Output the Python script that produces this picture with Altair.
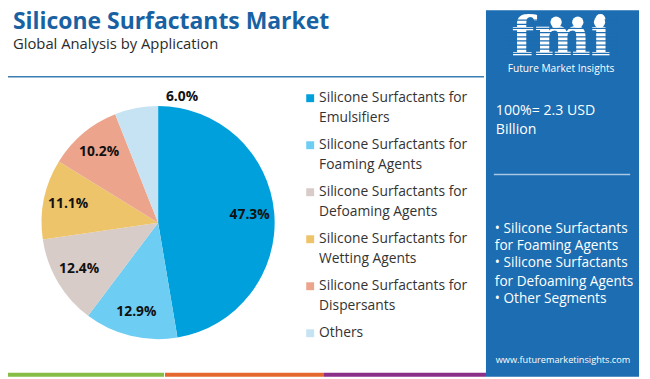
import altair as alt
import pandas as pd

# ---- data ----
categories = [
    "Silicone Surfactants for Emulsifiers",
    "Silicone Surfactants for Foaming Agents",
    "Silicone Surfactants for Defoaming Agents",
    "Silicone Surfactants for Wetting Agents",
    "Silicone Surfactants for Dispersants",
    "Others",
]
line1 = [
    "Silicone Surfactants for",
    "Silicone Surfactants for",
    "Silicone Surfactants for",
    "Silicone Surfactants for",
    "Silicone Surfactants for",
    "Others",
]
line2 = ["Emulsifiers", "Foaming Agents", "Defoaming Agents", "Wetting Agents", "Dispersants", ""]
shares = [47.3, 12.9, 12.4, 11.1, 10.2, 6.0]
colors = ["#00A0DC", "#6DCDF3", "#D8CCC8", "#EEC46B", "#ECA58C", "#C5E3F3"]

df = pd.DataFrame({
    "cat": categories,
    "l1": line1,
    "l2": line2,
    "value": shares,
    "idx": list(range(len(categories))),
})
df["label"] = df["value"].map(lambda v: f"{v:.1f}%")

W, H = 642, 371
FONT = "Open Sans"

def P(v):
    # reference pixel -> chart pixel (page has an 8px margin)
    return v - 8

color_scale = alt.Scale(domain=categories, range=colors)
one = alt.Data(values=[{}])

def rect(x1, x2, y1, y2, color):
    return alt.Chart(one).mark_rect(color=color).encode(
        x=alt.value(max(P(x1), 0)), x2=alt.value(min(P(x2), W)),
        y=alt.value(max(P(y1), 0)), y2=alt.value(min(P(y2), H)))

def txt(s, x, y, size, color, weight="normal", align="left", font=FONT, baseline="middle"):
    return alt.Chart(one).mark_text(
        text=s, fontSize=size, color=color, fontWeight=weight, align=align,
        baseline=baseline, font=font).encode(x=alt.value(P(x)), y=alt.value(P(y)))

# ---- pie ----
CX, CY, R = P(160), P(223), 118
base = alt.Chart(df).encode(
    theta=alt.Theta("value:Q", stack=True),
    order=alt.Order("idx:Q"),
)
pie = base.mark_arc(outerRadius=R, stroke=None).encode(
    color=alt.Color("cat:N", scale=color_scale, legend=None),
    x=alt.value(CX), y=alt.value(CY),
)
pie_labels = base.transform_calculate(
    lr="datum.value < 7 ? 129 : 93"
).mark_text(fontSize=14, fontWeight="bold", font=FONT, color="#111111").encode(
    text="label:N",
    radius=alt.Radius("lr:Q", scale=None),
    x=alt.value(CX), y=alt.value(CY),
)

# ---- legend ----
yleg = alt.Y("cat:N", scale=alt.Scale(type="point", domain=categories,
                                       range=[P(97), P(335)], padding=0), axis=None)
leg_sq = alt.Chart(df).mark_square(size=64, opacity=1, filled=True).encode(
    x=alt.value(P(314)), y=yleg,
    color=alt.Color("cat:N", scale=color_scale, legend=None),
)
leg_t1 = alt.Chart(df).mark_text(align="left", baseline="middle", fontSize=14,
                                 font=FONT, color="#333333").encode(
    x=alt.value(P(323)), y=yleg, text="l1:N")
leg_t2 = alt.Chart(df).mark_text(align="left", baseline="middle", fontSize=14,
                                 font=FONT, color="#333333", dy=20).encode(
    x=alt.value(P(323)), y=yleg, text="l2:N")

# ---- decorations ----
PANEL = "#1C6DB1"
layers = [
    rect(0, 166, 375, 380, "#86BD45"),
    rect(167, 328, 375, 380, "#E4672E"),
    rect(328, 492, 375, 380, "#8B2F89"),
    rect(492, 647, 6, 380, PANEL),
    rect(5, 490, 74.5, 76, "#3D7FB3"),
    txt("Silicone Surfactants Market", 13, 26.5, 23.2, "#1862A3", "bold", baseline="alphabetic"),
    txt("Global Analysis by Application", 13, 47, 15, "#2B2B2B", baseline="alphabetic"),
    pie, pie_labels, leg_sq, leg_t1, leg_t2,
    # logo
    txt("fmi", 568, 53, 54, "#FFFFFF", "bold", align="center", font="DejaVu Serif", baseline="alphabetic"),
]
stripes = alt.Chart(alt.sequence(0, 9, as_="k")).transform_calculate(
    yy=f"{P(18)} + datum.k * 4.2"
).mark_rule(color=PANEL, strokeWidth=1.3).encode(
    x=alt.value(P(512)), x2=alt.value(P(626)), y=alt.Y("yy:Q", scale=None))
layers.append(stripes)
circles = alt.Chart(alt.sequence(0, 3, as_="k")).transform_calculate(
    xx=f"{P(563)} + datum.k * 22"
).mark_circle(color="#FFFFFF", opacity=1, size=130).encode(
    x=alt.X("xx:Q", scale=None), y=alt.value(P(20)))
layers.append(circles)
layers += [
    txt("Future Market Insights", 568, 67, 10.3, "#FFFFFF", align="center"),
    txt("100%= 2.3 USD", 502, 110, 14.3, "#FFFFFF"),
    txt("Billion", 502, 129, 14.3, "#FFFFFF"),
    rect(500, 638, 173.5, 175, "#A9C8E6"),
    txt("• Silicone Surfactants", 501, 229, 13.8, "#FFFFFF"),
    txt("for Foaming Agents", 501, 247, 13.8, "#FFFFFF"),
    txt("• Silicone Surfactants", 501, 264, 13.8, "#FFFFFF"),
    txt("for Defoaming Agents", 501, 283, 13.8, "#FFFFFF"),
    txt("• Other Segments", 501, 300, 13.8, "#FFFFFF"),
    txt("www.futuremarketinsights.com", 570, 362, 9.3, "#FFFFFF", align="center"),
]

chart = alt.layer(*layers).properties(
    width=W, height=H, autosize=alt.AutoSizeParams(type="none"), padding=0,
    background="#FFFFFF",
).configure_view(stroke=None)

chart.save("out.html", embed_options={"renderer": "svg", "actions": False})
